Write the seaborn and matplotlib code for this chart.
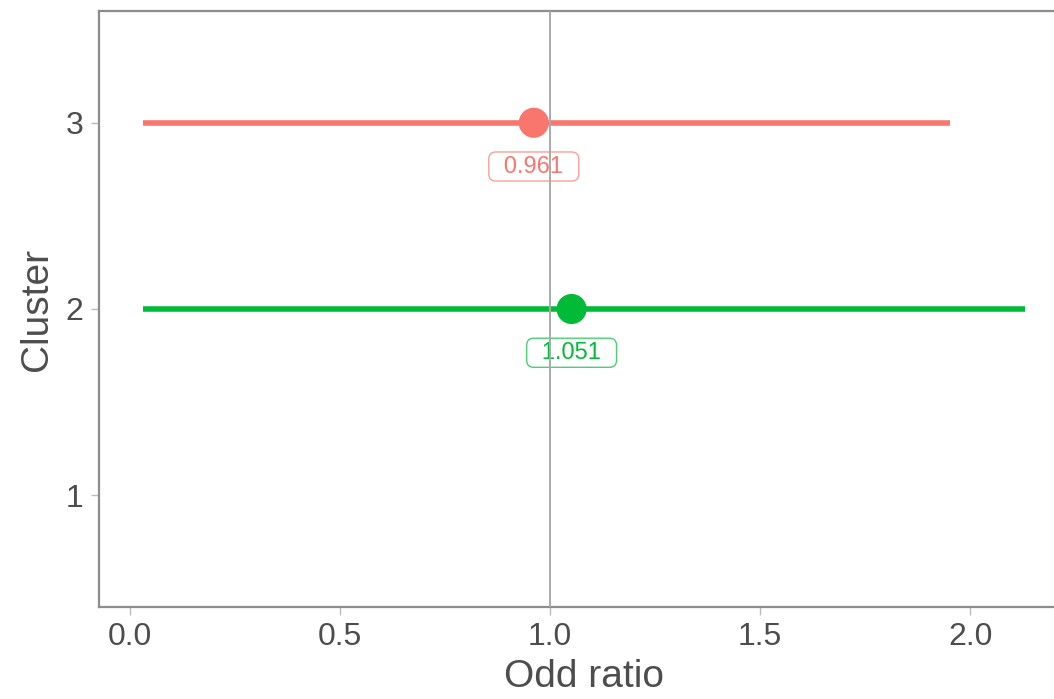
import matplotlib
matplotlib.use("Agg")
import matplotlib.pyplot as plt
import seaborn as sns
import pandas as pd
from matplotlib.colors import to_rgba

clusters = [3, 2]
odds = [0.961, 1.051]
lower = [0.031, 0.031]
upper = [1.952, 2.130]
labels = ["0.961", "1.051"]
colors = ["#F8766D", "#00BA38"]
y_ticks = [1, 2, 3]
x_ticks = [0.0, 0.5, 1.0, 1.5, 2.0]
x_tick_labels = ["0.0", "0.5", "1.0", "1.5", "2.0"]

df = pd.DataFrame({"cluster": clusters, "odds": odds, "lower": lower,
                   "upper": upper, "label": labels, "color": colors})

sns.set_theme(style="white")
plt.rcParams["font.family"] = ["Liberation Sans", "DejaVu Sans"]

fig = plt.figure(figsize=(10.54, 6.99), dpi=100)
ax = fig.add_axes([99/1054, 1 - 607/699, (1069 - 99)/1054, (607 - 11)/699])

for _, r in df.iterrows():
    ax.hlines(r["cluster"], r["lower"], r["upper"], color=r["color"], linewidth=4, zorder=2)

sns.scatterplot(data=df, x="odds", y="cluster", hue="label",
                palette=dict(zip(labels, colors)), s=470, linewidth=0,
                legend=False, ax=ax, zorder=3)

for _, r in df.iterrows():
    ax.text(r["odds"], r["cluster"] - 0.235, "\u2002" + r["label"] + "\u2002",
            ha="center", va="center", fontsize=17, color=r["color"], zorder=4,
            bbox=dict(boxstyle="round,pad=0.15,rounding_size=0.3", fc="white",
                      ec=to_rgba(r["color"], 0.7), lw=1.0))

ax.axvline(1.0, color="#AAAAAA", linewidth=1.4, zorder=5)

ax.set_xlim(-0.074, 2.235)
ax.set_ylim(0.4, 3.6)
ax.set_xticks(x_ticks)
ax.set_xticklabels(x_tick_labels)
ax.set_yticks(y_ticks)
ax.set_yticklabels([str(v) for v in y_ticks])

ax.tick_params(axis="both", which="major", length=6, width=1, color="#BBBBBB",
               labelsize=23, labelcolor="#4D4D4D", pad=5, bottom=True, left=True)
for s in ax.spines.values():
    s.set_color("#8C8C8C")
    s.set_linewidth(1.6)

ax.set_xlabel("Odd ratio", fontsize=28, color="#4D4D4D", labelpad=5)
ax.set_ylabel("Cluster", fontsize=28, color="#4D4D4D", labelpad=8)

fig.savefig("out.png", dpi=100)
